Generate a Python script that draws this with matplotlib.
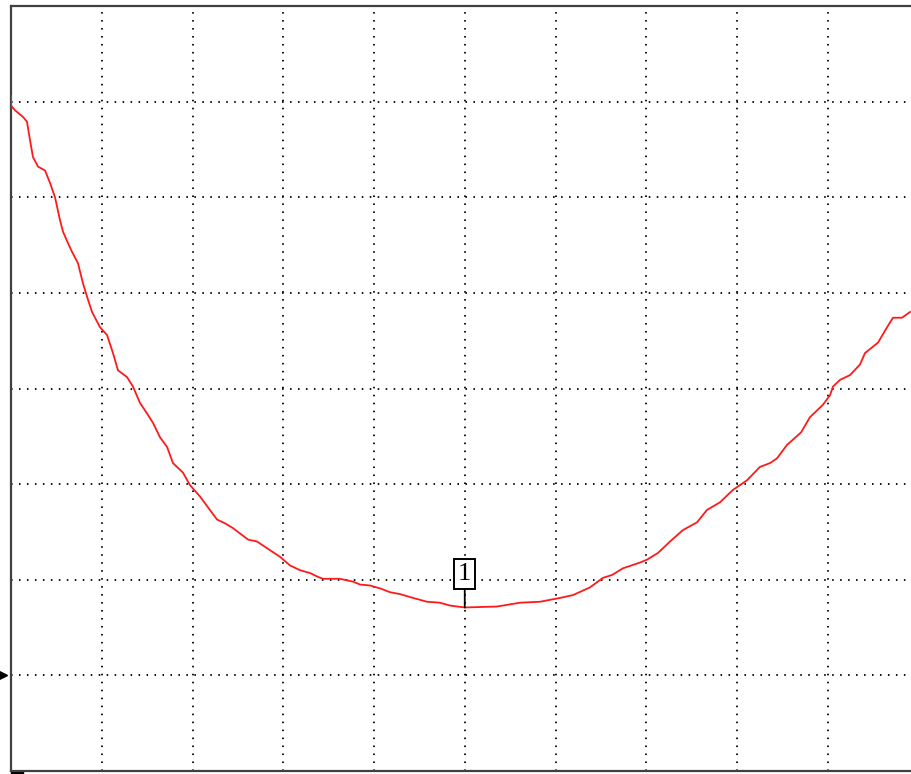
import numpy as np
import matplotlib
matplotlib.use("Agg")
import matplotlib.pyplot as plt
from matplotlib.patches import Rectangle
import matplotlib.transforms as mtransforms

## screen is 10 divisions wide and 8 divisions tall
x_divs = 10
y_divs = 8

## trace (horizontal div, vertical div)
trace_x = [0.00, 0.00, 0.044, 0.132, 0.176, 0.209, 0.242, 0.298, 0.375, 0.430,
           0.485, 0.540, 0.573, 0.628, 0.672, 0.738, 0.793, 0.848, 0.893, 0.981,
           1.058, 1.124, 1.179, 1.278, 1.344, 1.421, 1.498, 1.565, 1.642, 1.719,
           1.785, 1.895, 1.972, 2.083, 2.270, 2.358, 2.446, 2.612, 2.711, 2.821,
           2.964, 3.074, 3.185, 3.295, 3.383, 3.438, 3.625, 3.769, 3.846, 3.956,
           4.066, 4.176, 4.287, 4.430, 4.584, 4.727, 4.838, 5.000, 5.355, 5.609,
           5.829, 6.050, 6.193, 6.380, 6.523, 6.623, 6.744, 6.931, 7.008, 7.129,
           7.262, 7.405, 7.559, 7.669, 7.813, 7.956, 8.110, 8.253, 8.364, 8.441,
           8.551, 8.705, 8.804, 8.947, 9.025, 9.058, 9.135, 9.245, 9.355, 9.410,
           9.554, 9.653, 9.719, 9.818, 9.906]
trace_y = [7.06, 6.96, 6.91, 6.84, 6.79, 6.60, 6.42, 6.32, 6.28, 6.15,
           6.00, 5.76, 5.64, 5.52, 5.43, 5.31, 5.10, 4.93, 4.80, 4.64,
           4.56, 4.37, 4.19, 4.12, 4.02, 3.85, 3.74, 3.64, 3.49, 3.39,
           3.22, 3.12, 2.99, 2.87, 2.63, 2.59, 2.54, 2.42, 2.40, 2.33,
           2.24, 2.15, 2.10, 2.07, 2.03, 2.01, 2.01, 1.98, 1.95, 1.94,
           1.91, 1.87, 1.85, 1.81, 1.77, 1.76, 1.73, 1.71, 1.72, 1.76,
           1.77, 1.81, 1.84, 1.92, 2.02, 2.05, 2.12, 2.18, 2.21, 2.28,
           2.40, 2.52, 2.60, 2.73, 2.81, 2.94, 3.04, 3.18, 3.22, 3.27,
           3.41, 3.54, 3.70, 3.83, 3.93, 4.02, 4.09, 4.14, 4.25, 4.37,
           4.48, 4.64, 4.74, 4.74, 4.80]

## marker 1 sits on the trace minimum
marker_label = "1"
marker_x = 5.00
marker_y = 1.71

## reference level arrow on the left edge
ref_level = 1.0

fig = plt.figure(figsize=(9.11, 7.74), dpi=100)
ax = fig.add_axes([11 / 911, 3 / 774, 907.5 / 911, 765 / 774])
ax.set_xlim(0, x_divs)
ax.set_ylim(0, y_divs)
ax.set_xticks(np.arange(0, x_divs + 1))
ax.set_yticks(np.arange(0, y_divs + 1))
ax.tick_params(length=0, labelbottom=False, labelleft=False)
ax.grid(True, color="#111111", linewidth=1.4, linestyle=(0, (0.8, 3.3)))
for s in ax.spines.values():
    s.set_color("#404040")
    s.set_linewidth(1.6)

ax.plot(trace_x, trace_y, color="#ff1a1a", linewidth=1.3, zorder=3)

ax.annotate(marker_label, xy=(marker_x, marker_y), xytext=(0, 24),
            textcoords="offset points", ha="center", va="center",
            family="Liberation Serif", fontsize=19,
            bbox=dict(boxstyle="square,pad=0.14", fc="white", ec="black", lw=1.4),
            arrowprops=dict(arrowstyle="-", color="black", lw=1.3,
                            shrinkA=0, shrinkB=0),
            zorder=4)

## little arrow outside the left border
shift = mtransforms.ScaledTranslation(-10 / 100, 0, fig.dpi_scale_trans)
ax.plot([0], [ref_level], marker=">", markersize=9, color="black",
        clip_on=False, transform=ax.transData + shift)

## small bar under the bottom left corner
ax.add_patch(Rectangle((0, -0.005), 0.13, 0.005, color="black",
                       transform=ax.get_xaxis_transform(), clip_on=False))

fig.savefig("out.png", dpi=100)
